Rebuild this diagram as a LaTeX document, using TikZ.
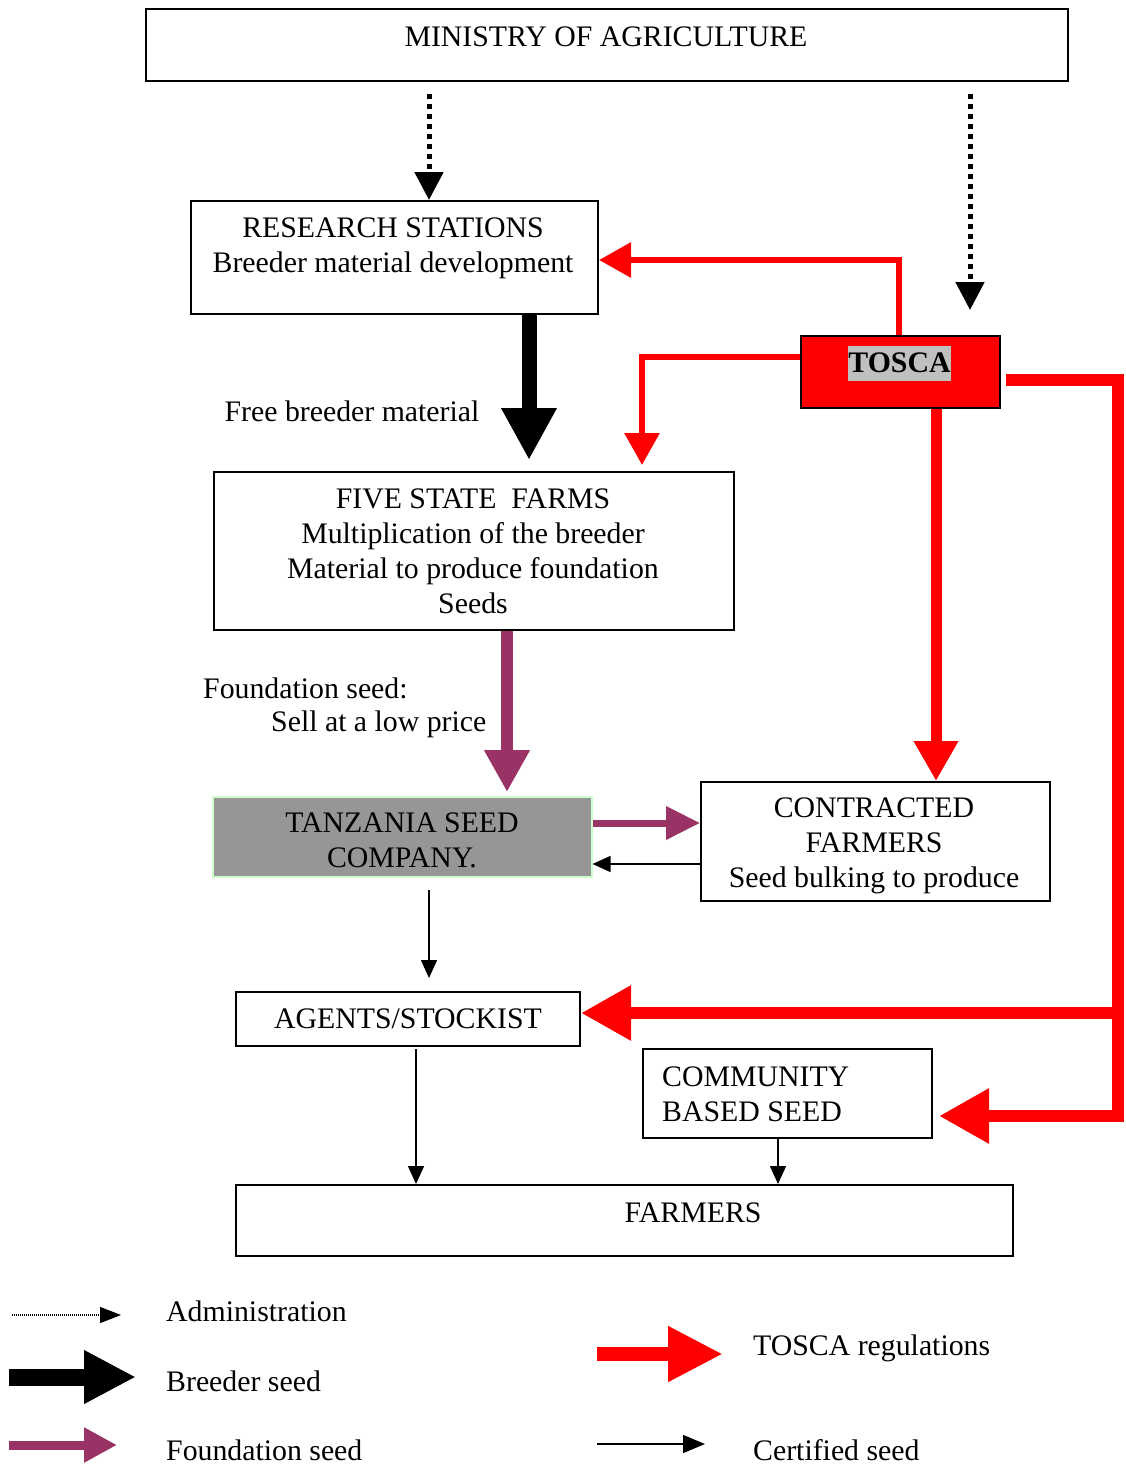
\documentclass[tikz,border=0pt]{standalone}
\usepackage{fontspec}
\setmainfont{Liberation Serif}
\usetikzlibrary{arrows.meta,calc}
\definecolor{tred}{HTML}{FF0000}
\definecolor{fpurple}{HTML}{993366}
\definecolor{tzgray}{HTML}{969696}
\definecolor{hlgray}{HTML}{C0C0C0}
\definecolor{tzgreen}{HTML}{CCFFCC}
\tikzset{
  box/.style={draw=black, line width=2pt, anchor=north west, inner sep=0pt},
  txt/.style={font=\fontsize{29.8}{35}\selectfont, align=center, inner sep=0pt, text=black},
  admin/.style={line width=5pt, dash pattern=on 5pt off 5pt, -{Triangle[length=28pt,width=28pt]}},
  redthin/.style={draw=tred, line width=6pt, -{Triangle[length=32pt,width=34pt]}},
  redmid/.style={draw=tred, line width=11pt, -{Triangle[length=40pt,width=42pt]}},
  redbig/.style={draw=tred, line width=12pt, -{Triangle[length=50pt,width=52pt]}},
  breeder/.style={line width=15pt, -{Triangle[length=52pt,width=52pt]}},
  fdown/.style={draw=fpurple, line width=12pt, -{Triangle[length=42pt,width=43pt]}},
  fright/.style={draw=fpurple, line width=7pt, -{Triangle[length=34pt,width=32pt]}},
  cert/.style={line width=1.5pt, -{Triangle[length=18pt,width=16pt]}},
}
\begin{document}
\begin{tikzpicture}[x=1pt,y=-1pt]
\useasboundingbox (0,0) rectangle (1126,1464);
% boxes
\node[box, minimum width=922pt, minimum height=72pt] (min) at (145,8) {};
\node[box, minimum width=407pt, minimum height=113pt] (rs) at (190,200) {};
\node[box, fill=tred, minimum width=199pt, minimum height=72pt] (tosca) at (800,335) {};
\node[box, minimum width=520pt, minimum height=158pt] (fsf) at (213,471) {};
\node[box, draw=tzgreen, line width=1.5pt, fill=tzgray, minimum width=379pt, minimum height=80pt] (tz) at (212,796) {};
\node[box, minimum width=349pt, minimum height=119pt] (cf) at (700,781) {};
\node[box, minimum width=344pt, minimum height=54pt] (ag) at (235,991) {};
\node[box, minimum width=289pt, minimum height=89pt] (cb) at (642,1048) {};
\node[box, minimum width=777pt, minimum height=71pt] (fa) at (235,1184) {};
% texts
\node[txt] (mint) at (606,37) {MINISTRY OF AGRICULTURE};
\node[txt] (rst) at (393,248.5) {RESEARCH STATIONS\\Breeder material development};
\node[txt, fill=hlgray, minimum height=35pt, font=\fontsize{29.8}{35}\selectfont\bfseries] (toscat) at (899.5,363) {TOSCA};
\node[txt] (fbm) at (352,411) {Free breeder material};
\node[txt] (fsft) at (473,551.5) {FIVE STATE\ \ FARMS\\Multiplication of the breeder\\Material to produce foundation\\Seeds};
\node[txt, anchor=west] (fs1) at (203,688) {Foundation seed:};
\node[txt, anchor=west] (fs2) at (271,724) {Sell at a low price};
\node[txt] (tzt) at (402,840.5) {TANZANIA SEED\\COMPANY.};
\node[txt] (cft) at (874,846) {CONTRACTED\\FARMERS\\Seed bulking to produce};
\node[txt] (agt) at (408,1019) {AGENTS/STOCKIST};
\node[txt, anchor=west, align=left] (cbt) at (662,1094) {COMMUNITY\\BASED SEED};
\node[txt] (fat) at (693,1213) {FARMERS};
% connectors
\draw[admin] ($(min.south west)+(284,12)$) -- ($(rs.north west)+(239,0)$);
\draw[admin] ($(min.south west)+(825,12)$) -- ($(tosca.north west)+(170,-25)$);
\draw[redthin] ($(tosca.north west)+(99,0)$) |- ($(rs.north east)+(0,60)$);
\draw[redthin] ($(tosca.north west)+(0,22)$) -| ($(fsf.north west)+(429,-6)$);
\draw[breeder] ($(rs.south west)+(339,0)$) -- ($(fsf.north west)+(316,-11)$);
\draw[redmid] ($(tosca.south west)+(136,0)$) -- ($(cf.north west)+(236,0)$);
\draw[redbig] ($(tosca.north east)+(5,45)$) -| ($(cb.south east)+(185,-23)$) -- ($(cb.south east)+(6,-23)$);
\coordinate (br) at (1116,1013);
\draw[redbig] (br) -- ($(ag.north east)+(0,22)$);
\draw[fdown] ($(fsf.south west)+(294,0)$) -- ($(tz.north west)+(295,-4)$);
\draw[fright] ($(tz.north east)+(0,27)$) -- ($(cf.north west)+(0,42)$);
\draw[cert] ($(cf.north west)+(0,83)$) -- ($(tz.north east)+(0,68)$);
\draw[cert] ($(tz.south west)+(217,12)$) -- ($(ag.north west)+(194,-13)$);
\draw[cert] ($(ag.south west)+(181,2)$) -- ($(fa.north west)+(181,0)$);
\draw[cert] ($(cb.south west)+(136,0)$) -- ($(fa.north west)+(543,0)$);
% legend
\coordinate (l1a) at (12,1315); \coordinate (l1b) at (121,1315);
\coordinate (l2a) at (9,1377); \coordinate (l2b) at (136,1377);
\coordinate (l3a) at (9,1445); \coordinate (l3b) at (117,1445);
\coordinate (l4a) at (597,1354); \coordinate (l4b) at (723,1354);
\coordinate (l5a) at (597,1444); \coordinate (l5b) at (705,1444);
\draw[line width=1.2pt, dash pattern=on 1pt off 1pt, -{Triangle[length=21pt,width=16pt]}] (l1a) -- (l1b);
\draw[line width=17pt, -{Triangle[length=52pt,width=50pt]}] (l2a) -- (l2b);
\draw[draw=fpurple, line width=9pt, -{Triangle[length=33pt,width=33pt]}] (l3a) -- (l3b);
\draw[draw=tred, line width=14pt, -{Triangle[length=55pt,width=52pt]}] (l4a) -- (l4b);
\draw[line width=1.5pt, -{Triangle[length=22pt,width=18pt]}] (l5a) -- (l5b);
\node[txt, anchor=west] (lg1) at (166,1311) {Administration};
\node[txt, anchor=west] (lg2) at (166,1381) {Breeder seed};
\node[txt, anchor=west] (lg3) at (166,1450) {Foundation seed};
\node[txt, anchor=west] (lg4) at (753,1348) {TOSCA regulations};
\node[txt, anchor=west] (lg5) at (753,1450) {Certified seed};
\end{tikzpicture}
\end{document}
